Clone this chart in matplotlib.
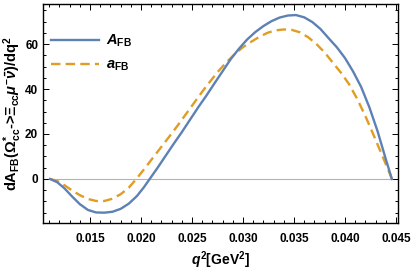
import matplotlib

matplotlib.use("Agg")
import matplotlib.pyplot as plt
from matplotlib.ticker import MultipleLocator, FormatStrFormatter

# values
q2_A = [0.01108, 0.0118, 0.0125, 0.0132, 0.0140, 0.0148, 0.0156, 0.0164,
        0.0172, 0.0180, 0.0188, 0.0196, 0.0203, 0.0209, 0.0216, 0.0224,
        0.0232, 0.0240, 0.0248, 0.0256, 0.0264, 0.0272, 0.0280, 0.0288,
        0.0296, 0.0304, 0.0312, 0.0320, 0.0328, 0.0336, 0.0344, 0.0352,
        0.0360, 0.0368, 0.0376, 0.0384, 0.0392, 0.0400, 0.0408, 0.0416,
        0.0424, 0.0432, 0.0440, 0.0446]
A_FB = [0.0, -1.5, -4.2, -7.6, -11.2, -13.8, -14.9, -15.0,
        -14.6, -13.3, -11.0, -7.6, -3.6, 0.3, 4.8, 10.2,
        15.6, 20.8, 26.3, 31.8, 37.0, 42.5, 47.9, 53.3,
        57.9, 62.0, 65.3, 68.0, 70.2, 71.8, 72.7, 72.9,
        71.9, 69.8, 66.7, 62.6, 58.6, 53.8, 47.8, 40.8,
        31.8, 21.2, 8.9, 0.0]

q2_a = [0.01108, 0.0118, 0.0125, 0.0132, 0.0140, 0.0148, 0.0156, 0.0164,
        0.0172, 0.0180, 0.0188, 0.0196, 0.0204, 0.0212, 0.0220, 0.0228,
        0.0236, 0.0244, 0.0252, 0.0260, 0.0268, 0.0276, 0.0284, 0.0292,
        0.0300, 0.0308, 0.0316, 0.0324, 0.0332, 0.0340, 0.0348, 0.0356,
        0.0364, 0.0372, 0.0380, 0.0388, 0.0396, 0.0404, 0.0412, 0.0420,
        0.0428, 0.0436, 0.0442, 0.0446]
a_FB = [0.0, -0.9, -2.8, -5.0, -7.2, -8.9, -9.8, -9.8,
        -8.8, -6.8, -3.9, 0.3, 4.9, 9.6, 14.3, 19.0,
        23.8, 28.8, 33.8, 38.8, 43.5, 48.0, 52.0, 55.6,
        58.6, 61.0, 63.2, 65.0, 66.1, 66.5, 66.3, 65.2,
        63.0, 60.0, 56.3, 51.8, 47.3, 42.2, 35.6, 28.0,
        19.6, 11.0, 4.5, 0.0]

plt.rcParams["font.family"] = "Liberation Sans"
plt.rcParams["font.weight"] = "bold"
plt.rcParams["mathtext.fontset"] = "custom"
plt.rcParams["mathtext.rm"] = "Liberation Sans:bold"
plt.rcParams["mathtext.bf"] = "Liberation Sans:bold"
plt.rcParams["mathtext.it"] = "Liberation Sans:italic:bold"

fig = plt.figure(figsize=(4.15, 2.70), dpi=100)
ax = fig.add_axes([0.1036, 0.174, 0.8554, 0.811])

ax.axhline(0, color="#b3b3b3", lw=0.8, zorder=1)
ax.plot(q2_A, A_FB, color="#5e81b5", lw=1.7, label=r"$A_{\rm FB}$", zorder=3)
ax.plot(q2_a, a_FB, color="#e19c24", lw=1.7, ls=(0, (4.0, 2.2)),
        label=r"$a_{\rm FB}$", zorder=2)

ax.set_xlim(0.01039, 0.0452)
ax.set_ylim(-19.6, 77.8)

ax.xaxis.set_major_locator(MultipleLocator(0.005))
ax.xaxis.set_minor_locator(MultipleLocator(0.001))
ax.xaxis.set_major_formatter(FormatStrFormatter("%.3f"))
ax.yaxis.set_major_locator(MultipleLocator(20))
ax.yaxis.set_minor_locator(MultipleLocator(5))
ax.tick_params(which="both", direction="in", top=True, right=True,
               labelsize=8.5, width=0.7)
ax.tick_params(axis="x", pad=7)
ax.tick_params(axis="y", pad=3.5)
ax.tick_params(which="major", length=4)
ax.tick_params(which="minor", length=2)
for lbl in ax.get_xticklabels() + ax.get_yticklabels():
    lbl.set_fontweight("bold")
for s in ax.spines.values():
    s.set_linewidth(1.0)

ax.set_xlabel(r"$q^{2}$[GeV$^{2}$]", fontsize=10, fontweight="bold", labelpad=3)
ax.set_ylabel(r"dA$_{\rm FB}$($\Omega^{*}_{\rm cc}$->$\Xi_{\rm cc}\mu^{-}\bar{\nu}$)/dq$^{2}$",
              fontsize=10.5, fontweight="bold")
ax.yaxis.set_label_coords(-0.053, 0.5)

ax.legend(loc="upper left", bbox_to_anchor=(0.0, 0.905), frameon=False,
          fontsize=10.5, handlelength=3.3, handletextpad=0.5, labelspacing=0.6,
          borderaxespad=0.15)

fig.savefig("out.png", dpi=100)
